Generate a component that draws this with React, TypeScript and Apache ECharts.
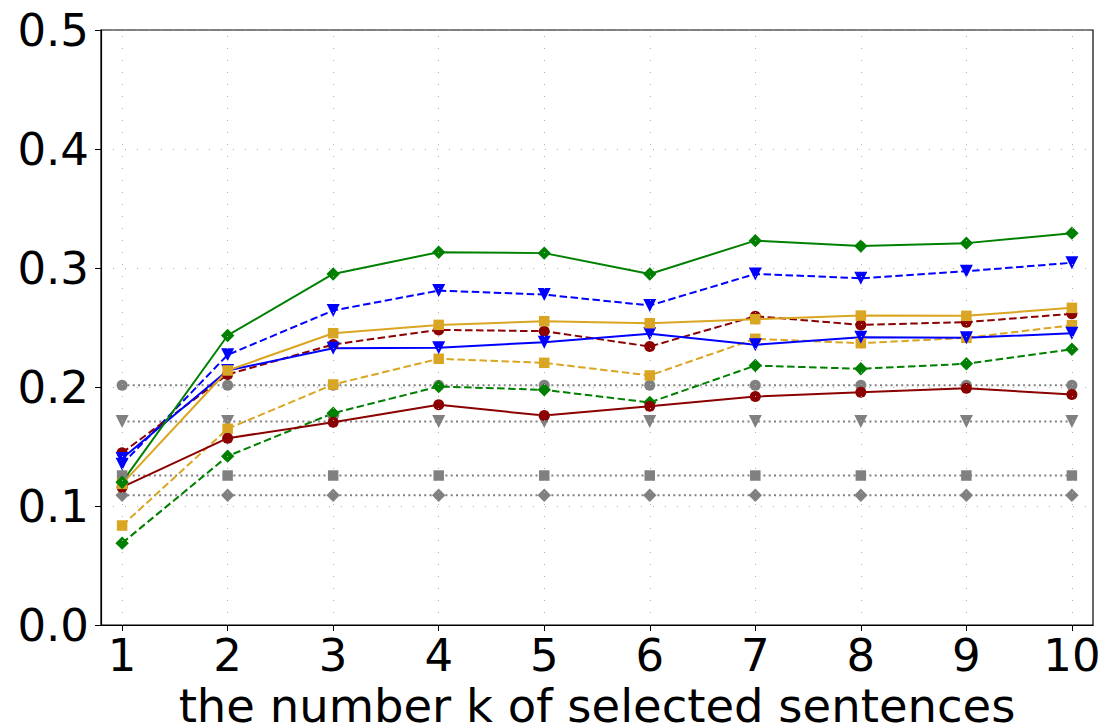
import React, { useEffect, useRef } from "react";
import * as echarts from "echarts";

const K = [1, 2, 3, 4, 5, 6, 7, 8, 9, 10];

// gray reference (constant) series
const refCircle = [0.2015, 0.2015, 0.2015, 0.2015, 0.2015, 0.2015, 0.2015, 0.2015, 0.2015, 0.2015];
const refTriangle = [0.171, 0.171, 0.171, 0.171, 0.171, 0.171, 0.171, 0.171, 0.171, 0.171];
const refSquare = [0.1256, 0.1256, 0.1256, 0.1256, 0.1256, 0.1256, 0.1256, 0.1256, 0.1256, 0.1256];
const refDiamond = [0.109, 0.109, 0.109, 0.109, 0.109, 0.109, 0.109, 0.109, 0.109, 0.109];

const greenSolid = [0.12, 0.2433, 0.295, 0.3133, 0.3125, 0.295, 0.323, 0.3184, 0.3209, 0.3293];
const blueDashed = [0.135, 0.227, 0.2643, 0.281, 0.2777, 0.2685, 0.295, 0.2914, 0.2973, 0.3044];
const goldSolid = [0.1186, 0.2139, 0.2452, 0.2522, 0.2553, 0.2536, 0.257, 0.26, 0.2598, 0.2665];
const redDashed = [0.1447, 0.2105, 0.2357, 0.248, 0.2469, 0.234, 0.2595, 0.2522, 0.2545, 0.2615];
const blueSolid = [0.14, 0.2139, 0.2326, 0.2329, 0.2377, 0.2447, 0.2355, 0.2419, 0.2413, 0.2452];
const goldDashed = [0.0836, 0.1649, 0.2021, 0.2237, 0.2203, 0.2097, 0.2405, 0.2368, 0.2413, 0.2519];
const greenDashed = [0.0688, 0.1419, 0.178, 0.2004, 0.1976, 0.187, 0.218, 0.2153, 0.2195, 0.2318];
const redSolid = [0.1158, 0.157, 0.1704, 0.185, 0.176, 0.1839, 0.192, 0.1956, 0.199, 0.1937];

const GREEN = "#008000";
const BLUE = "#0000ff";
const GOLD = "#daa520";
const RED = "#8b0000";
const GRAY = "#808080";
const FONT = "DejaVu Sans";

type Marker = "circle" | "triangle" | "square" | "diamond";

function markerProps(m: Marker) {
  switch (m) {
    case "circle":
      return { symbol: "circle", symbolSize: 11, symbolRotate: 0 };
    case "triangle":
      return { symbol: "triangle", symbolSize: 13, symbolRotate: 180 };
    case "square":
      return { symbol: "rect", symbolSize: 10.5, symbolRotate: 0 };
    case "diamond":
      return { symbol: "rect", symbolSize: 9.5, symbolRotate: 45 };
  }
}

function makeSeries(name: string, values: number[], color: string, marker: Marker, dash: "solid" | "dashed" | "dotted", extra: any = {}) {
  const lineType = dash === "solid" ? "solid" : dash === "dashed" ? [7.5, 3.5] : [2, 3.3];
  return {
    name,
    type: "line",
    data: K.map((k, i) => [k, values[i]]),
    ...markerProps(marker),
    showSymbol: true,
    itemStyle: { color },
    lineStyle: { color, width: 2, type: lineType },
    emphasis: { disabled: true },
    ...extra,
  };
}

export default function App() {
  const ref = useRef<HTMLDivElement>(null);
  useEffect(() => {
    if (!ref.current) return;
    const chart = echarts.init(ref.current, null, { renderer: "svg" });
    const option: any = {
      animation: false,
      backgroundColor: "#ffffff",
      grid: {
        left: 101,
        top: 30,
        right: 11,
        bottom: 99,
        outerBoundsMode: "none",
        containLabel: false,
        show: true,
        borderColor: "#000",
        borderWidth: 1.2,
        backgroundColor: "transparent",
      },
      xAxis: {
        type: "value",
        min: 0.8,
        max: 10.2,
        name: "the number k of selected sentences",
        nameLocation: "middle",
        nameGap: 54,
        nameTextStyle: { fontFamily: FONT, fontSize: 46.5, color: "#000" },
        axisLine: { show: true, onZero: false, lineStyle: { color: "#000", width: 1.2 } },
        axisTick: { show: true, length: 6, customValues: K, lineStyle: { color: "#000" } },
        axisLabel: {
          customValues: K,
          fontFamily: FONT,
          fontSize: 45,
          color: "#000",
          margin: 8,
          formatter: (v: number) => String(v),
        },
        splitLine: { show: false },
      },
      yAxis: {
        type: "value",
        min: 0,
        max: 0.5,
        interval: 0.1,
        axisLine: { show: true, lineStyle: { color: "#000", width: 1.2 } },
        axisTick: { show: true, length: 6, lineStyle: { color: "#000" } },
        axisLabel: {
          fontFamily: FONT,
          fontSize: 45,
          color: "#000",
          margin: 12,
          formatter: (v: number) => v.toFixed(1),
        },
        splitLine: { show: true, lineStyle: { color: "#b0b0b0", width: 1, type: [1, 11] } },
      },
      series: [
        makeSeries("ref circle", refCircle, GRAY, "circle", "dotted", {
          markLine: {
            silent: true,
            symbol: "none",
            label: { show: false },
            lineStyle: { color: "#b0b0b0", width: 1, type: [1, 11] },
            data: K.map((k) => ({ xAxis: k })),
          },
        }),
        makeSeries("ref triangle", refTriangle, GRAY, "triangle", "dotted"),
        makeSeries("ref square", refSquare, GRAY, "square", "dotted"),
        makeSeries("ref diamond", refDiamond, GRAY, "diamond", "dotted"),
        makeSeries("green dashed", greenDashed, GREEN, "diamond", "dashed"),
        makeSeries("gold dashed", goldDashed, GOLD, "square", "dashed"),
        makeSeries("blue dashed", blueDashed, BLUE, "triangle", "dashed"),
        makeSeries("red dashed", redDashed, RED, "circle", "dashed"),
        makeSeries("red solid", redSolid, RED, "circle", "solid"),
        makeSeries("blue solid", blueSolid, BLUE, "triangle", "solid"),
        makeSeries("gold solid", goldSolid, GOLD, "square", "solid"),
        makeSeries("green solid", greenSolid, GREEN, "diamond", "solid"),
      ],
    };
    chart.setOption(option);
    return () => chart.dispose();
  }, []);
  return (
    <div
      ref={ref}
      style={{ position: "fixed", left: 0, top: 0, width: 1104, height: 724, background: "#fff" }}
    />
  );
}
